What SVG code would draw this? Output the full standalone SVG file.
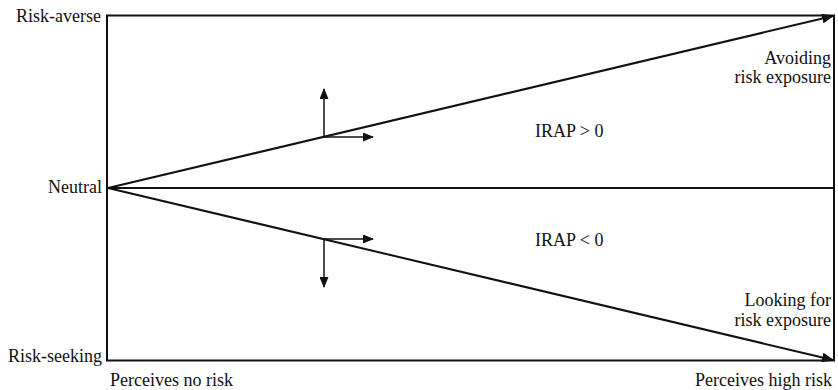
<svg xmlns="http://www.w3.org/2000/svg" width="838" height="390" viewBox="0 0 838 390">
<style>
text{font-family:'Liberation Serif','Times New Roman',serif;font-size:18px;fill:#111}
.ln{stroke:#111;stroke-width:2;fill:none}
.thin{stroke:#111;stroke-width:1.5;fill:none}
.r{text-anchor:end}
</style>
<defs>
<marker id="ah" markerWidth="12" markerHeight="10" refX="11" refY="5" orient="auto" markerUnits="userSpaceOnUse">
<path d="M0,0 L12,5 L0,10 Z" fill="#111"/>
</marker>
<marker id="ahs" markerWidth="11" markerHeight="9" refX="10" refY="4.5" orient="auto" markerUnits="userSpaceOnUse">
<path d="M0,0 L11,4.5 L0,9 Z" fill="#111"/>
</marker>
</defs>
<g id="frame">
<rect x="107" y="15.5" width="727" height="345" class="ln"/>
<line x1="107" y1="188" x2="834" y2="188" class="ln"/>
</g>
<g id="connectors">
<line x1="108" y1="188" x2="833" y2="16" class="ln" marker-end="url(#ah)"/>
<line x1="108" y1="188" x2="833" y2="360" class="ln" marker-end="url(#ah)"/>
<line x1="324" y1="137" x2="324" y2="89" class="thin" marker-end="url(#ahs)"/>
<line x1="324" y1="137" x2="373" y2="137" class="thin" marker-end="url(#ahs)"/>
<line x1="324" y1="239" x2="324" y2="287" class="thin" marker-end="url(#ahs)"/>
<line x1="324" y1="239" x2="373" y2="239" class="thin" marker-end="url(#ahs)"/>
</g>
<g id="axis-labels">
<text x="101" y="22" class="r">Risk-averse</text>
<text x="102" y="193" class="r">Neutral</text>
<text x="102" y="362" class="r">Risk-seeking</text>
<text x="110" y="386">Perceives no risk</text>
<text x="832" y="386" class="r">Perceives high risk</text>
</g>
<g id="region-labels">
<text x="831" y="64" class="r">Avoiding</text>
<text x="831" y="83" class="r">risk exposure</text>
<text x="831" y="306" class="r">Looking for</text>
<text x="831" y="326" class="r">risk exposure</text>
<text x="535" y="137">IRAP &gt; 0</text>
<text x="535" y="246">IRAP &lt; 0</text>
</g>
</svg>
